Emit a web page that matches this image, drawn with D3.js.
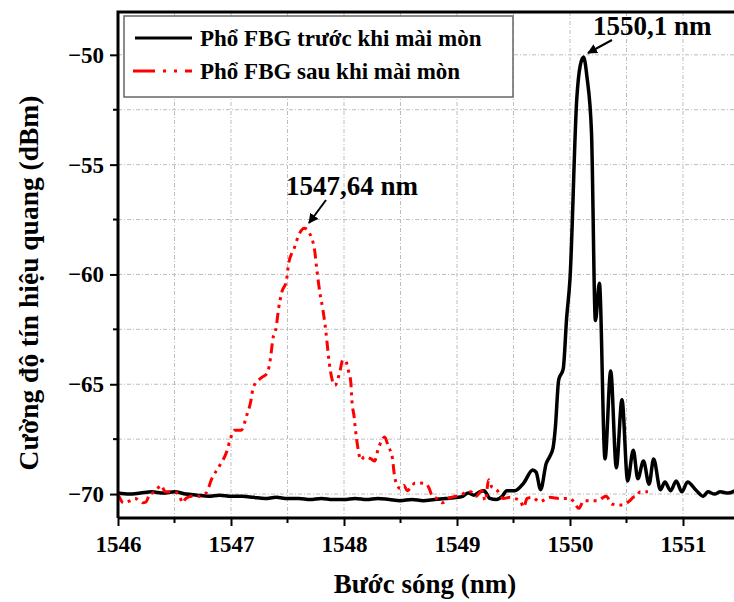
<!DOCTYPE html>
<html>
<head>
<meta charset="utf-8">
<script src="https://cdn.jsdelivr.net/npm/d3@7"></script>
<style>
  body { margin: 0; background: #fff; }
  svg { display: block; font-family: "Liberation Serif", "Times New Roman", serif; font-weight: bold; }
</style>
</head>
<body>
<svg id="chart" width="734" height="602"></svg>
<script>
// wavelength (nm) / power (dBm)
const beforeWl = [1546.00, 1546.10, 1546.20, 1546.30, 1546.40, 1546.50, 1546.60, 1546.70, 1546.80, 1546.90,
    1547.00, 1547.10, 1547.20, 1547.30, 1547.40, 1547.50, 1547.60, 1547.70, 1547.80, 1547.90,
    1548.00, 1548.10, 1548.20, 1548.30, 1548.40, 1548.50, 1548.60, 1548.70, 1548.80, 1548.90,
    1549.00, 1549.05, 1549.10, 1549.15, 1549.20, 1549.24, 1549.29, 1549.35, 1549.40, 1549.44,
    1549.51, 1549.59, 1549.67, 1549.70, 1549.74, 1549.79, 1549.82, 1549.85, 1549.87, 1549.90,
    1549.94, 1549.97, 1550.00, 1550.06, 1550.09, 1550.12, 1550.15, 1550.19, 1550.225, 1550.26,
    1550.31, 1550.36, 1550.41, 1550.46, 1550.51, 1550.56, 1550.60, 1550.65, 1550.70, 1550.74,
    1550.80, 1550.84, 1550.89, 1550.94, 1550.99, 1551.04, 1551.12, 1551.18, 1551.22, 1551.28,
    1551.33, 1551.40, 1551.46];
const beforeDbm = [-69.95, -70.0, -69.95, -69.9, -69.95, -69.9, -70.0, -70.05, -70.1, -70.05,
    -70.1, -70.1, -70.15, -70.2, -70.15, -70.2, -70.2, -70.25, -70.2, -70.25,
    -70.25, -70.2, -70.25, -70.2, -70.25, -70.3, -70.25, -70.3, -70.25, -70.2,
    -70.15, -70.1, -69.95, -70.05, -69.9, -69.85, -70.2, -70.25, -70.1, -69.85,
    -69.85, -69.5, -68.9, -69.0, -69.8, -68.6, -68.3, -67.9, -67.0, -64.8,
    -64.3, -62.0, -60.2, -52.0, -50.5, -50.1, -51.0, -53.5, -62.1, -60.4,
    -68.4, -64.4, -68.8, -65.7, -69.4, -68.0, -69.3, -68.5, -69.55, -68.4,
    -69.8, -69.45, -69.85, -69.4, -69.9, -69.45, -69.85, -70.1, -69.9, -70.0,
    -69.9, -69.95, -69.85];

const afterWl = [1546.00, 1546.05, 1546.11, 1546.15, 1546.19, 1546.22, 1546.25, 1546.28, 1546.33, 1546.38,
    1546.42, 1546.46, 1546.50, 1546.55, 1546.57, 1546.60, 1546.65, 1546.71, 1546.78, 1546.83,
    1546.90, 1546.96, 1547.00, 1547.03, 1547.09, 1547.14, 1547.17, 1547.20, 1547.27, 1547.32,
    1547.35, 1547.37, 1547.40, 1547.42, 1547.45, 1547.49, 1547.51, 1547.56, 1547.60, 1547.65,
    1547.71, 1547.74, 1547.76, 1547.79, 1547.81, 1547.83, 1547.85, 1547.86, 1547.88, 1547.92,
    1547.96, 1547.99, 1548.01, 1548.04, 1548.06, 1548.07, 1548.09, 1548.10, 1548.12, 1548.15,
    1548.18, 1548.24, 1548.27, 1548.30, 1548.33, 1548.36, 1548.39, 1548.43, 1548.44, 1548.47,
    1548.50, 1548.53, 1548.56, 1548.59, 1548.63, 1548.67, 1548.73, 1548.75, 1548.78, 1548.82,
    1548.87, 1548.92, 1548.99, 1549.05, 1549.08, 1549.12, 1549.17, 1549.22, 1549.25, 1549.28,
    1549.31, 1549.35, 1549.41, 1549.47, 1549.51, 1549.56, 1549.59, 1549.62, 1549.67, 1549.73,
    1549.82, 1549.91, 1550.00, 1550.08, 1550.12, 1550.24, 1550.32, 1550.37, 1550.46, 1550.53,
    1550.56, 1550.59, 1550.62, 1550.69];
const afterDbm = [-70.0, -70.4, -70.3, -70.2, -70.3, -70.4, -70.35, -70.0, -69.9, -69.6,
    -69.9, -69.9, -69.9, -70.15, -70.4, -70.2, -70.1, -70.1, -69.95, -69.3,
    -68.7, -68.1, -67.4, -67.1, -67.1, -66.4, -65.9, -65.1, -64.7, -64.5,
    -63.8, -62.95, -62.4, -61.6, -60.8, -60.3, -59.5, -58.8, -58.2, -57.9,
    -58.3, -58.9, -59.8, -60.95, -61.5, -62.2, -63.1, -63.6, -64.4, -65.05,
    -64.5, -63.9, -63.9, -64.4, -64.9, -65.75, -66.5, -67.0, -67.8, -68.45,
    -68.3, -68.4, -68.5, -68.0, -67.6, -67.4, -67.8, -68.4, -68.9, -69.6,
    -69.75, -69.6, -69.85, -69.7, -69.5, -69.5, -69.55, -69.7, -70.08, -70.2,
    -70.4, -70.2, -70.1, -70.0, -69.9, -69.9, -70.1, -69.85, -70.3, -69.35,
    -69.7, -69.8, -70.2, -70.15, -70.2, -70.3, -70.6, -70.2, -70.15, -70.35,
    -70.15, -70.2, -70.2, -70.65, -70.3, -70.3, -70.1, -70.45, -70.5, -70.3,
    -70.15, -70.1, -69.9, -69.9];

const xTicks = [1546, 1547, 1548, 1549, 1550, 1551];
const yTicks = [-50, -55, -60, -65, -70];
const seriesNames = ["Phổ FBG trước khi mài mòn", "Phổ FBG sau khi mài mòn"];
const peakLabels = ["1550,1 nm", "1547,64 nm"];

const svg = d3.select("#chart");
const plotLeft = 118, plotTop = 12, plotBottom = 518;

const x = d3.scaleLinear().domain([1546, 1551.5]).range([plotLeft, plotLeft + 5.5 * 113]);
const y = d3.scaleLinear().domain([-71.09, -48.05]).range([plotBottom, plotTop]);

const xMinor = d3.range(1546, 1551.51, 0.5);
const yMinor = d3.range(-70, -47.9, 2.5);

// grid
const grid = svg.append("g")
    .attr("stroke", "#bdbdbd")
    .attr("stroke-width", 1)
    .attr("stroke-dasharray", "4,2,1,2");
grid.selectAll(".gx")
    .data(xMinor.filter(d => d > 1546))
    .enter().append("line")
    .attr("x1", d => x(d)).attr("x2", d => x(d))
    .attr("y1", plotTop).attr("y2", plotBottom);
grid.selectAll(".gy")
    .data(yMinor)
    .enter().append("line")
    .attr("x1", plotLeft).attr("x2", 734)
    .attr("y1", d => y(d)).attr("y2", d => y(d));

// curves
const line = d3.line()
    .x(d => x(d[0]))
    .y(d => y(d[1]))
    .curve(d3.curveMonotoneX);

svg.append("path")
    .datum(d3.zip(beforeWl, beforeDbm))
    .attr("d", line)
    .attr("fill", "none")
    .attr("stroke", "#000")
    .attr("stroke-width", 3.5)
    .attr("stroke-linejoin", "round");

svg.append("path")
    .datum(d3.zip(afterWl, afterDbm))
    .attr("d", line)
    .attr("fill", "none")
    .attr("stroke", "#ff0000")
    .attr("stroke-width", 3)
    .attr("stroke-dasharray", "10,5,3,5,3,5");

// axes
const xAxis = svg.append("g")
    .attr("transform", `translate(0,${plotBottom})`)
    .call(d3.axisBottom(x).tickValues(xTicks).tickFormat(d3.format("d")).tickSize(8).tickPadding(6));
xAxis.append("g").selectAll("line")
    .data(xMinor.filter(d => !xTicks.includes(d)))
    .enter().append("line")
    .attr("x1", d => x(d)).attr("x2", d => x(d))
    .attr("y1", 0).attr("y2", 5)
    .attr("stroke", "#000").attr("stroke-width", 2);

const yAxis = svg.append("g")
    .attr("transform", `translate(${plotLeft},0)`)
    .call(d3.axisLeft(y).tickValues(yTicks).tickFormat(d3.format("d")).tickSize(8).tickPadding(6));
yAxis.append("g").selectAll("line")
    .data(yMinor.filter(d => !yTicks.includes(d)))
    .enter().append("line")
    .attr("y1", d => y(d)).attr("y2", d => y(d))
    .attr("x1", 0).attr("x2", -5)
    .attr("stroke", "#000").attr("stroke-width", 2);

[xAxis, yAxis].forEach(g => {
    g.select(".domain").remove();
    g.selectAll(".tick line").attr("stroke-width", 2);
    g.selectAll(".tick text")
        .style("font-family", "Liberation Serif, serif")
        .style("font-weight", "bold")
        .style("font-size", "23px")
        .attr("fill", "#000");
});
xAxis.selectAll(".tick text").attr("dy", "0.85em");

// frame (left, top, bottom)
svg.append("path")
    .attr("d", `M${plotLeft},${plotBottom}H${x.range()[1]}M${plotLeft},${plotBottom}V${plotTop}H${x.range()[1]}`)
    .attr("fill", "none")
    .attr("stroke", "#000")
    .attr("stroke-width", 3);

// axis titles
svg.append("text")
    .attr("x", 425).attr("y", 593)
    .attr("text-anchor", "middle")
    .style("font-size", "27px")
    .text("Bước sóng (nm)");
svg.append("text")
    .attr("transform", "translate(38,283) rotate(-90)")
    .attr("text-anchor", "middle")
    .style("font-size", "27.5px")
    .text("Cường độ tín hiệu quang (dBm)");

// legend
const legend = svg.append("g");
legend.append("rect")
    .attr("x", 124).attr("y", 16)
    .attr("width", 389).attr("height", 81)
    .attr("fill", "#fff")
    .attr("stroke", "#666")
    .attr("stroke-width", 1.5);
legend.append("line")
    .attr("x1", 135).attr("x2", 192).attr("y1", 38).attr("y2", 38)
    .attr("stroke", "#000").attr("stroke-width", 3);
legend.append("line")
    .attr("x1", 133).attr("x2", 192).attr("y1", 71).attr("y2", 71)
    .attr("stroke", "#ff0000").attr("stroke-width", 3)
    .attr("stroke-dasharray", "22,8,3,8,3,8");
legend.selectAll(".lt")
    .data(seriesNames)
    .enter().append("text")
    .attr("x", 200)
    .attr("y", (d, i) => 46 + i * 33)
    .style("font-size", "23px")
    .text(d => d);

// peak annotations
svg.append("defs").append("marker")
    .attr("id", "arrow")
    .attr("viewBox", "0 0 10 10")
    .attr("refX", 9).attr("refY", 5)
    .attr("markerWidth", 5).attr("markerHeight", 5)
    .attr("orient", "auto")
    .append("path").attr("d", "M0,0L10,5L0,10Z").attr("fill", "#000");

svg.append("text").attr("x", 593).attr("y", 35).style("font-size", "27px").text(peakLabels[0]);
svg.append("line")
    .attr("x1", 612).attr("y1", 40).attr("x2", 588).attr("y2", 53)
    .attr("stroke", "#000").attr("stroke-width", 2)
    .attr("marker-end", "url(#arrow)");

svg.append("text").attr("x", 286).attr("y", 195).style("font-size", "27px").text(peakLabels[1]);
svg.append("line")
    .attr("x1", 326).attr("y1", 200).attr("x2", 309).attr("y2", 223)
    .attr("stroke", "#000").attr("stroke-width", 2)
    .attr("marker-end", "url(#arrow)");
</script>
</body>
</html>
